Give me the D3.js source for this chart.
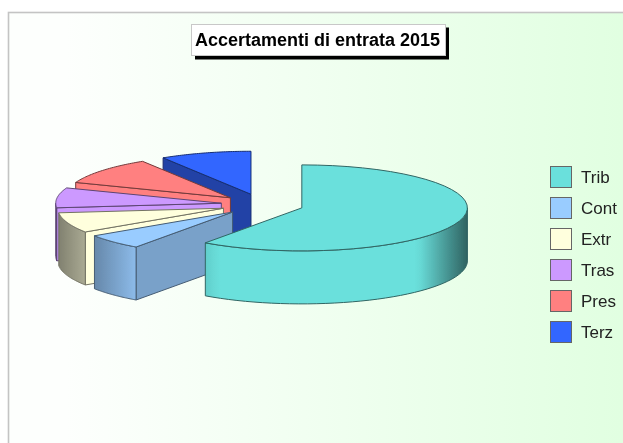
<!DOCTYPE html>
<html><head><meta charset="utf-8">
<script src="https://cdn.jsdelivr.net/npm/d3@7"></script>
<style>html,body{margin:0;padding:0;background:#fff}svg{display:block}text{font-family:"Liberation Sans",Arial,sans-serif}</style>
</head><body><svg id="c" width="623" height="443"></svg>
<script>
const titleText = "Accertamenti di entrata 2015";
const categories = ["Trib","Cont","Extr","Tras","Pres","Terz"];
const values = [59.9,5.8,7.6,7.5,10.3,8.9];
const colors = ["#6ae0dc","#99ccff","#ffffdd","#cc99ff","#ff8080","#3366ff"];

const W=623,H=443;
const cx=262.4,cy=204.6,rx=165.6,ry=43,depth=53,explode=0.25;
const svg=d3.select("#c");
const defs=svg.append("defs");

const bg=defs.append("linearGradient").attr("id","bg").attr("x1",0).attr("x2",1).attr("y1",0).attr("y2",0);
bg.append("stop").attr("offset","9%").attr("stop-color","#fdfffd");
bg.append("stop").attr("offset","100%").attr("stop-color","#e0ffe0");
defs.append("filter").attr("id","soft").attr("x","-5%").attr("y","-5%").attr("width","110%").attr("height","110%")
  .append("feGaussianBlur").attr("stdDeviation",0.45);

svg.append("rect").attr("x",8.5).attr("y",12.5).attr("width",W+10).attr("height",H+10)
  .attr("fill","url(#bg)").attr("stroke","#c4c4c4").attr("stroke-width",1.6);

const color=d3.scaleOrdinal(categories,colors);
const shadeScale=d3.scaleLinear().domain([-1,-.85,-.58,-.5,.7,1]).range([.5,.65,.92,1,1,.44]).clamp(true);
const shadeAt=a=>shadeScale(Math.sin(a));
const tint=(c,k)=>{const o=d3.rgb(c);return d3.rgb(o.r*k,o.g*k,o.b*k).formatRgb();};

const pie=d3.pie().sort(null).value(d=>d.v).startAngle(0).endAngle(2*Math.PI);
const arcs=pie(categories.map((k,i)=>({k,v:values[i]})));

const g=svg.append("g").attr("filter","url(#soft)");
const line=d3.line();
const stepsOf=(a0,a1)=>d3.range(0,41).map(i=>a0+(a1-a0)*i/40);

arcs.slice().reverse().forEach(s=>{
  const c=color(s.data.k), edge=tint(c,.45);
  const mid=(s.startAngle+s.endAngle)/2;
  const ox=cx+explode*rx*Math.sin(mid), oy=cy-explode*ry*Math.cos(mid);
  const rim=a=>[ox+rx*Math.sin(a),oy-ry*Math.cos(a)];

  // cut face at the start angle
  if(s.startAngle>0){
    const p=rim(s.startAngle);
    g.append("path").attr("d",line([[ox,oy],p,[p[0],p[1]+depth],[ox,oy+depth]])+"Z")
      .attr("fill",tint(c,shadeAt(s.startAngle-Math.PI/2))).attr("stroke",edge).attr("stroke-width",1);
  }
  // outer rim on the front half
  const a0=Math.max(s.startAngle,Math.PI/2), a1=Math.min(s.endAngle,1.5*Math.PI);
  if(a1>a0){
    const angles=stepsOf(a0,a1);
    const top=angles.map(rim);
    const pts=top.concat(top.slice().reverse().map(p=>[p[0],p[1]+depth]));
    const id="rim"+categories.indexOf(s.data.k);
    const xs=top.map(p=>p[0]), x0=d3.min(xs), x1=d3.max(xs);
    const gr=defs.append("linearGradient").attr("id",id).attr("gradientUnits","userSpaceOnUse")
      .attr("x1",x0).attr("x2",x1).attr("y1",0).attr("y2",0);
    const stops=angles.map((a,i)=>({o:(xs[i]-x0)/Math.max(1,x1-x0),col:tint(c,shadeAt(a))}))
      .sort((m,n)=>m.o-n.o);
    gr.selectAll("stop").data(stops).join("stop").attr("offset",d=>d.o).attr("stop-color",d=>d.col);
    g.append("path").attr("d",line(pts)+"Z").attr("fill",`url(#${id})`).attr("stroke",edge).attr("stroke-width",1);
  }
  // top face
  g.append("path").attr("d",line([[ox,oy]].concat(stepsOf(s.startAngle,s.endAngle).map(rim)))+"Z")
    .attr("fill",c).attr("stroke",edge).attr("stroke-width",1);
});

// title
const tg=svg.append("g").attr("filter","url(#soft)");
tg.append("rect").attr("x",195).attr("y",27.5).attr("width",254).attr("height",32).attr("fill","#000");
tg.append("rect").attr("x",191.5).attr("y",24.5).attr("width",254).attr("height",31).attr("fill","#fff").attr("stroke","#c8c8c8");
tg.append("text").attr("x",195).attr("y",46).attr("font-size",18).attr("font-weight","bold").attr("fill","#000").text(titleText);

// legend
const y=d3.scalePoint().domain(categories).range([177,332]);
const lg=svg.append("g").attr("filter","url(#soft)").selectAll("g").data(categories).join("g");
lg.append("rect").attr("x",550.5).attr("y",d=>y(d)-10.5).attr("width",21).attr("height",21)
  .attr("fill",d=>color(d)).attr("stroke","#666");
lg.append("text").attr("x",581).attr("y",d=>y(d)+6).attr("font-size",17).attr("fill","#222").text(d=>d);
</script></body></html>
